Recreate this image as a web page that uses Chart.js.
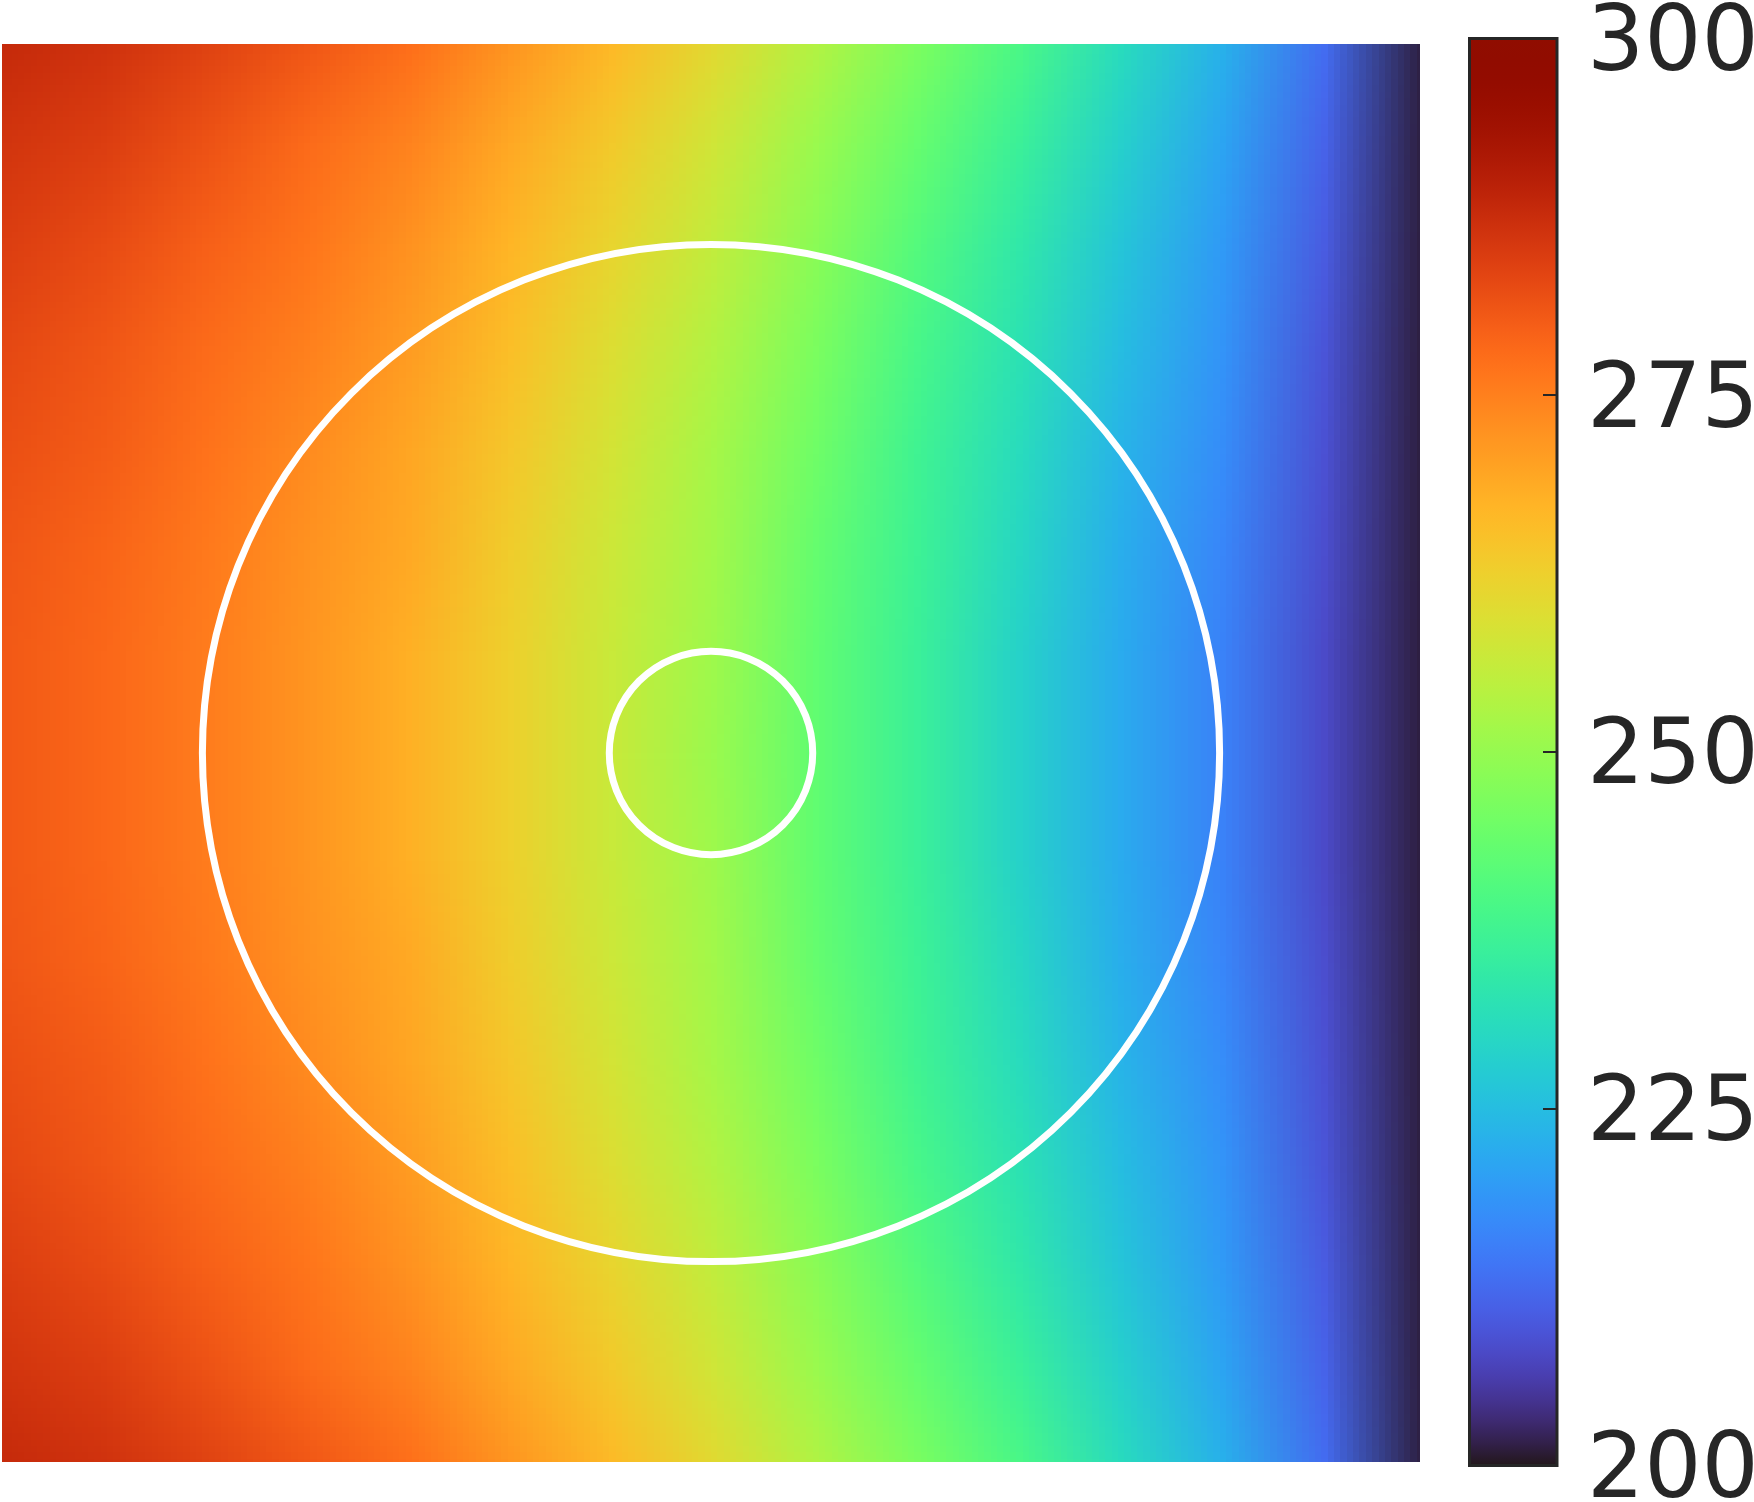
<!DOCTYPE html>
<html>
<head>
<meta charset="utf-8">
<script src="https://cdn.jsdelivr.net/npm/chart.js@4"></script>
<style>
  html, body { margin: 0; padding: 0; background: #fff; }
  body { width: 1754px; height: 1502px; position: relative; overflow: hidden; }
  #field { position: absolute; left: 2px; top: 44px; }
  #cbar { position: absolute; left: 1440px; top: 0px; }
</style>
</head>
<body>
<canvas id="field" width="1418" height="1418"></canvas>
<canvas id="cbar" width="314" height="1502"></canvas>
<script>
// sample positions of the field
const xCoords = [-0.7, -0.6, -0.5, -0.4, -0.3, -0.2, -0.1, 0, 0.1, 0.2, 0.3, 0.4, 0.5, 0.6, 0.7];
const yCoords = [0.7, 0.6, 0.5, 0.4, 0.3, 0.2, 0.1, 0, -0.1, -0.2, -0.3, -0.4, -0.5, -0.6, -0.7];

// values, one row per |y| (field is symmetric top/bottom)
const rowY07 = [288, 286.5, 284, 281, 277.5, 272, 266.5, 260.5, 253.5, 246.5, 239.5, 231, 223, 213, 201];
const rowY06 = [286, 284.5, 281.5, 278, 274.5, 269, 263.5, 257.5, 250.5, 243.5, 236.5, 228.5, 221, 211.5, 201];
const rowY05 = [284.5, 282.5, 279.5, 276.5, 272.5, 267, 261.5, 255.5, 248.5, 241, 234, 226.5, 219.5, 210.5, 201];
const rowY04 = [283, 281, 278, 275, 271, 265.5, 259.5, 253.5, 246.5, 239, 232.5, 225, 218.5, 209.5, 201];
const rowY03 = [282, 280, 277, 273.5, 269.5, 264, 258, 252, 245, 237.5, 231, 223.5, 217.5, 209, 201];
const rowY02 = [281, 279, 276, 272.5, 269, 263, 257, 251.5, 243.5, 237, 230, 222.5, 216.5, 208.5, 201];
const rowY01 = [280.5, 278.5, 275.5, 272, 268, 262.5, 256.5, 251, 243, 236.5, 229, 222, 216, 208, 201];
const rowY00 = [280.5, 278.5, 275.5, 272, 268, 262.5, 256.5, 250.5, 243, 236.5, 229, 222, 216, 208, 201];

const circleRadii = [0.1, 0.5];
const axisLimit = 0.697;
const tickValues = [200, 225, 250, 275, 300];
const cMin = 200, cMax = 300;

const fieldRows = [rowY07, rowY06, rowY05, rowY04, rowY03, rowY02, rowY01, rowY00,
                   rowY01, rowY02, rowY03, rowY04, rowY05, rowY06, rowY07];

// turbo colormap (polynomial approximation)
function turbo(t) {
    t = Math.min(1, Math.max(0, t));
    const r = 0.13572138 + t * (4.61539260 + t * (-42.66032258 + t * (132.13108234 + t * (-152.94239396 + t * 59.28637943))));
    const g = 0.09140261 + t * (2.19418839 + t * (4.84296658 + t * (-14.18503333 + t * (4.27729857 + t * 2.82956604))));
    const b = 0.10667330 + t * (12.64194608 + t * (-60.58204836 + t * (110.36276771 + t * (-89.90310912 + t * 27.34824973))));
    return [r, g, b].map(c => Math.round(255 * Math.min(1, Math.max(0, c))));
}

const heatPlugin = {
    id: "heat",
    beforeDatasetsDraw(chart) {
        const { ctx, chartArea, scales: { x, y } } = chart;
        const off = document.createElement("canvas");
        off.width = xCoords.length;
        off.height = yCoords.length;
        const octx = off.getContext("2d");
        const img = octx.createImageData(off.width, off.height);
        fieldRows.forEach((row, j) => row.forEach((v, i) => {
            const [r, g, b] = turbo((v - cMin) / (cMax - cMin));
            const k = 4 * (j * off.width + i);
            img.data[k] = r; img.data[k + 1] = g; img.data[k + 2] = b; img.data[k + 3] = 255;
        }));
        octx.putImageData(img, 0, 0);

        const dx = (x.getPixelForValue(xCoords[1]) - x.getPixelForValue(xCoords[0])) / 2;
        const dy = (y.getPixelForValue(yCoords[1]) - y.getPixelForValue(yCoords[0])) / 2;
        const left = x.getPixelForValue(xCoords[0]) - dx;
        const right = x.getPixelForValue(xCoords[xCoords.length - 1]) + dx;
        const top = y.getPixelForValue(yCoords[0]) - dy;
        const bottom = y.getPixelForValue(yCoords[yCoords.length - 1]) + dy;

        ctx.save();
        ctx.beginPath();
        ctx.rect(chartArea.left, chartArea.top, chartArea.width, chartArea.height);
        ctx.clip();
        ctx.imageSmoothingEnabled = true;
        ctx.drawImage(off, left, top, right - left, bottom - top);
        ctx.restore();
    },
    afterDatasetsDraw(chart) {
        // white circles, radius given in data units
        const { ctx, scales: { x, y } } = chart;
        const cx = x.getPixelForValue(0);
        const cy = y.getPixelForValue(0);
        ctx.save();
        ctx.strokeStyle = "#ffffff";
        ctx.lineWidth = 7;
        circleRadii.forEach(r => {
            const rp = Math.abs(x.getPixelForValue(r) - cx);
            ctx.beginPath();
            ctx.arc(cx, cy, rp, 0, Math.PI * 2);
            ctx.stroke();
        });
        ctx.restore();
    }
};

new Chart(document.getElementById("field"), {
    type: "scatter",
    data: { datasets: [] },
    options: {
        responsive: false,
        animation: false,
        events: [],
        layout: { padding: 0 },
        plugins: { legend: { display: false }, tooltip: { enabled: false } },
        scales: {
            x: { display: false, min: -axisLimit, max: axisLimit },
            y: { display: false, min: -axisLimit, max: axisLimit }
        }
    },
    plugins: [heatPlugin]
});

const cbarPlugin = {
    id: "cbar",
    afterDatasetsDraw(chart) {
        const { ctx, chartArea } = chart;
        const s = chart.scales.y;
        const grad = ctx.createLinearGradient(0, s.getPixelForValue(cMin), 0, s.getPixelForValue(cMax));
        for (let i = 0; i <= 64; i++) {
            const [r, g, b] = turbo(i / 64);
            grad.addColorStop(i / 64, `rgb(${r},${g},${b})`);
        }
        ctx.save();
        ctx.fillStyle = grad;
        ctx.fillRect(chartArea.left, chartArea.top, chartArea.width, chartArea.height);
        ctx.strokeStyle = "#262626";
        ctx.lineWidth = 3;
        ctx.strokeRect(chartArea.left, chartArea.top, chartArea.width, chartArea.height);
        ctx.lineWidth = 2;
        tickValues.slice(1, -1).forEach(v => {
            const py = Math.round(s.getPixelForValue(v));
            ctx.beginPath();
            ctx.moveTo(chartArea.right - 14, py);
            ctx.lineTo(chartArea.right, py);
            ctx.stroke();
        });
        ctx.restore();
    }
};

new Chart(document.getElementById("cbar"), {
    type: "scatter",
    data: { datasets: [] },
    options: {
        responsive: false,
        animation: false,
        events: [],
        layout: { padding: { left: 29.5, top: 38.5, bottom: 36.5, right: 0 } },
        plugins: { legend: { display: false }, tooltip: { enabled: false } },
        scales: {
            x: { display: false, min: 0, max: 1 },
            y: {
                position: "right",
                min: cMin,
                max: cMax,
                afterBuildTicks: scale => { scale.ticks = tickValues.map(v => ({ value: v })); },
                afterFit: scale => { scale.width = 197; scale.paddingTop = 0; scale.paddingBottom = 0; },
                grid: { display: false, drawTicks: false },
                border: { display: false },
                ticks: {
                    padding: 30,
                    labelOffset: 8,
                    color: "#262626",
                    font: { family: "DejaVu Sans", size: 90 }
                }
            }
        }
    },
    plugins: [cbarPlugin]
});
</script>
</body>
</html>
